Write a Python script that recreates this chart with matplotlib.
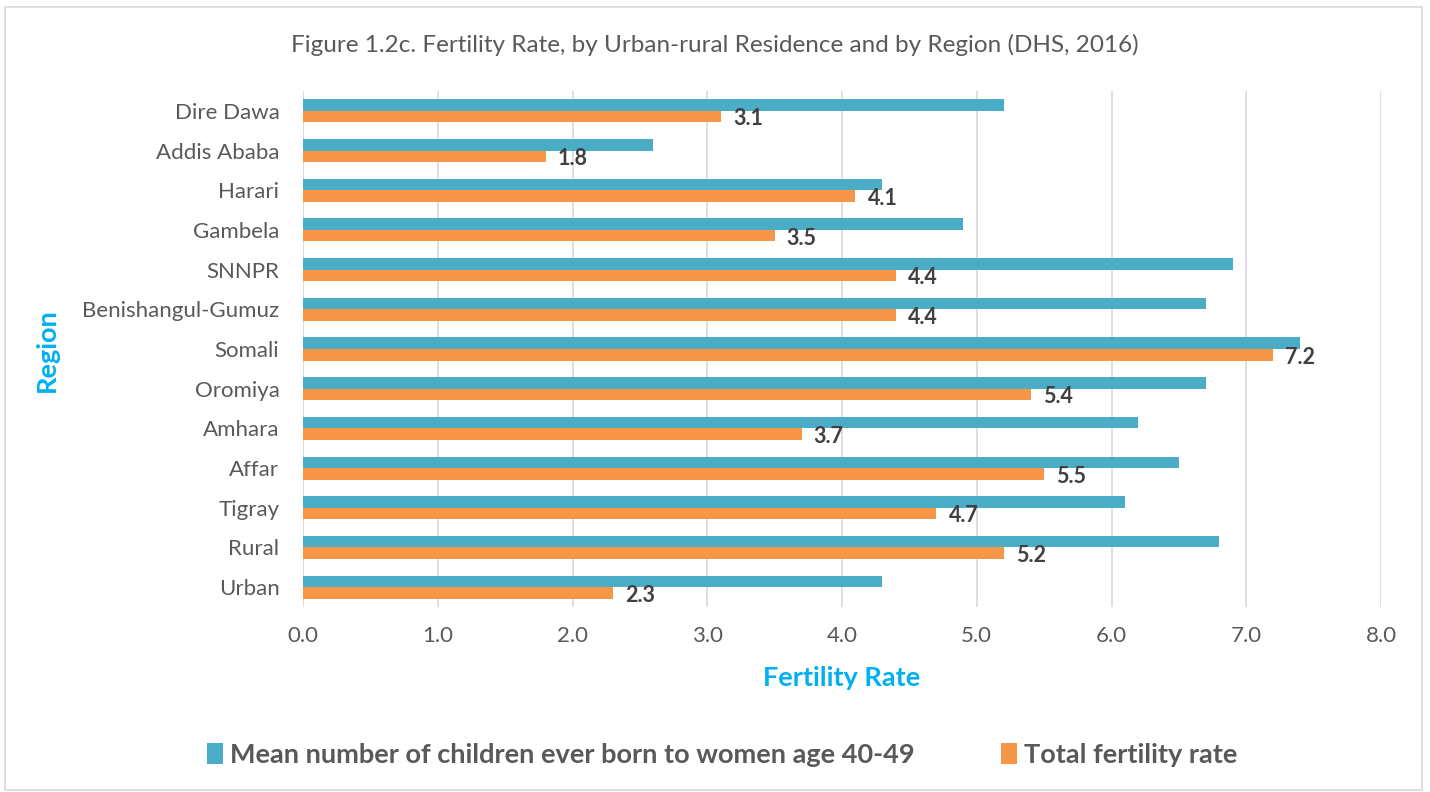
import numpy as np
import matplotlib
matplotlib.use("Agg")
import matplotlib.pyplot as plt
from matplotlib.patches import Rectangle

# Data (bottom to top, as drawn)
regions = ["Urban", "Rural", "Tigray", "Affar", "Amhara", "Oromiya", "Somali",
           "Benishangul-Gumuz", "SNNPR", "Gambela", "Harari", "Addis Ababa",
           "Dire Dawa"]
mean_children = [4.3, 6.8, 6.1, 6.5, 6.2, 6.7, 7.4, 6.7, 6.9, 4.9, 4.3, 2.6, 5.2]
tfr = [2.3, 5.2, 4.7, 5.5, 3.7, 5.4, 7.2, 4.4, 4.4, 3.5, 4.1, 1.8, 3.1]
xticks = [0.0, 1.0, 2.0, 3.0, 4.0, 5.0, 6.0, 7.0, 8.0]

plt.rcParams["font.family"] = ["Lato", "DejaVu Sans"]

BLUE = "#4BACC6"
ORANGE = "#F79646"
TICK_GREY = "#595959"
LABEL_GREY = "#404040"
CYAN = "#00B0F0"

fig = plt.figure(figsize=(14.3, 7.92), dpi=100)
W, H = 1430, 792
ax = fig.add_axes([303 / W, 1 - 607 / H, (1381 - 303) / W, (607 - 91) / H])

# outer frame of the chart area
fig.patches.append(Rectangle((5 / W, 2 / H), 1417 / W, 783 / H,
                             transform=fig.transFigure, fill=False,
                             edgecolor="#D9D9D9", linewidth=1.2))

y = np.arange(len(regions))
h = 0.29
ax.barh(y + h / 2, mean_children, height=h, color=BLUE, zorder=3,
        label="Mean number of children ever born to women age 40-49")
ax.barh(y - h / 2, tfr, height=h, color=ORANGE, zorder=3,
        label="Total fertility rate")

for yi, v in zip(y, tfr):
    ax.text(v + 0.09, yi - h / 2 - 0.06, "{:.1f}".format(v), va="center",
            ha="left", fontsize=15.5, fontweight="bold", color=LABEL_GREY)

ax.set_xlim(0, 8)
ax.set_ylim(-0.5, len(regions) - 0.5)
ax.set_xticks(xticks)
ax.set_xticklabels(["{:.1f}".format(t) for t in xticks])
ax.set_yticks(y)
ax.set_yticklabels(regions)
ax.tick_params(axis="both", length=0, labelsize=16, colors=TICK_GREY)
ax.tick_params(axis="x", pad=14)
ax.tick_params(axis="y", pad=17)
ax.grid(axis="x", color="#D9D9D9", linewidth=1.2, zorder=0)
for s in ax.spines.values():
    s.set_visible(False)
ax.axvline(0, color="#D9D9D9", linewidth=1.2, zorder=1)

ax.set_xlabel("Fertility Rate", fontsize=19.5, fontweight="bold", color=CYAN,
              labelpad=14)
fig.text(47 / W, 1 - 350 / H, "Region", rotation=90, fontsize=19.5,
         fontweight="bold", color=CYAN, ha="center", va="center")

fig.text(715 / W, 1 - 45 / H,
         "Figure 1.2c. Fertility Rate, by Urban-rural Residence and by Region (DHS, 2016)",
         ha="center", va="center", fontsize=17.5, color=TICK_GREY)

handles, labels = ax.get_legend_handles_labels()
fig.legend(handles, labels, loc="center", bbox_to_anchor=(722 / W, 1 - 755 / H),
           ncol=2, frameon=False, prop={"size": 19.5, "weight": "bold"},
           labelcolor=TICK_GREY, handlelength=0.6, handleheight=0.8,
           handletextpad=0.25, columnspacing=3.2)

fig.savefig("out.png", dpi=100)
